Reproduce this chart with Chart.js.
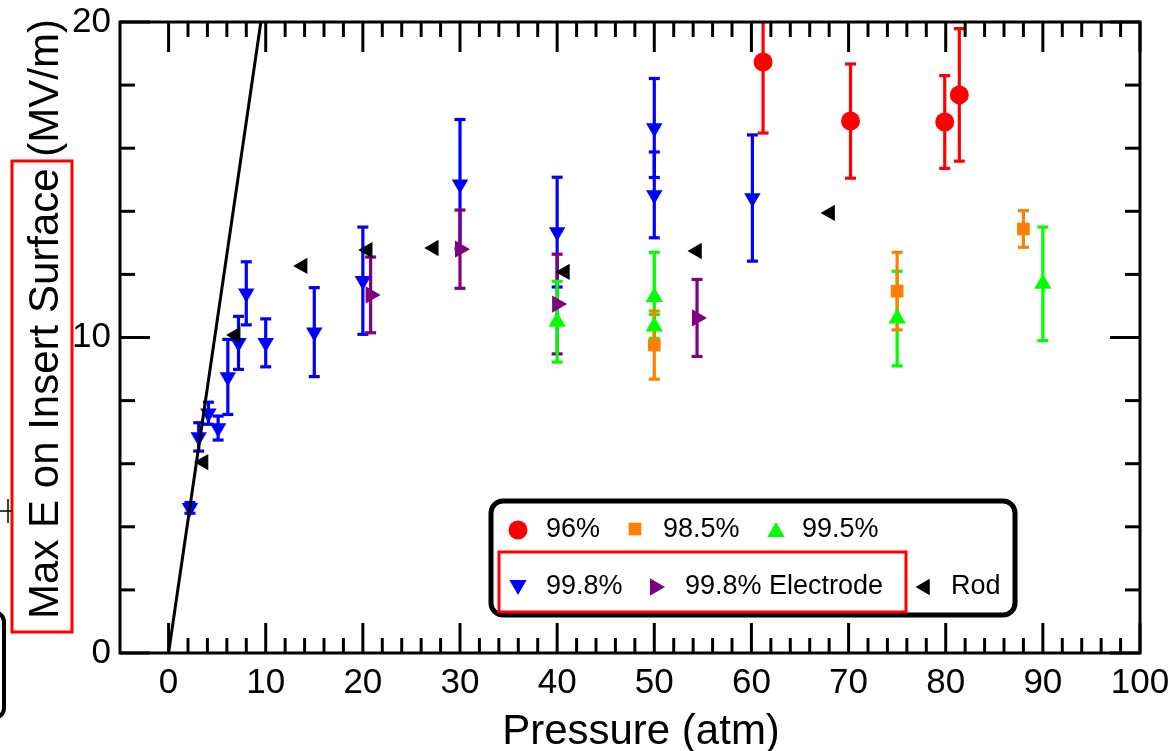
<!DOCTYPE html>
<html><head><meta charset="utf-8">
<script src="https://cdn.jsdelivr.net/npm/chart.js@4"></script>
<style>html,body{margin:0;padding:0;background:#fff}canvas{display:block}</style>
</head><body>
<canvas id="c" width="1175" height="751"></canvas>
<script>
const FONT = '"Liberation Sans", Arial, Helvetica, sans-serif';

// tick labels
const xTickValues = [0, 10, 20, 30, 40, 50, 60, 70, 80, 90, 100];
const yTickValues = [0, 10, 20];

// 96%
const p96 = [61.2, 70.2, 79.9, 81.4];
const v96 = [18.73, 16.86, 16.83, 17.69];
const e96 = [2.25, 1.81, 1.47, 2.1];

// 98.5%
const p985 = [50.0, 75.0, 88.0];
const v985 = [9.76, 11.47, 13.44];
const e985 = [1.08, 1.23, 0.58];

// 99.5%
const p995 = [40.0, 50.0, 50.0, 75.0, 90.0];
const v995 = [10.5, 11.28, 10.35, 10.6, 11.7];
const e995 = [1.28, 1.42, 0.38, 1.5, 1.8];

// 99.8%
const p998 = [2.2, 3.1, 4.1, 5.1, 6.1, 7.2, 8.0, 10.0, 15.0, 20.0, 30.0, 40.0, 50.0, 50.0, 60.1];
const v998 = [4.6, 6.85, 7.6, 7.13, 8.75, 9.83, 11.4, 9.83, 10.17, 11.8, 14.86, 13.34, 16.64, 14.52, 14.42];
const e998 = [0.17, 0.45, 0.35, 0.38, 1.19, 0.84, 1.0, 0.76, 1.41, 1.7, 2.05, 1.74, 1.57, 1.36, 2.0];

// 99.8% Electrode
const pElec = [20.8, 30.0, 40.0, 54.4];
const vElec = [11.35, 12.8, 11.06, 10.62];
const eElec = [1.2, 1.24, 1.58, 1.22];

// Rod
const pRod = [3.6, 6.9, 13.8, 20.5, 27.3, 40.8, 54.4, 68.1];
const vRod = [6.05, 10.08, 12.27, 12.77, 12.84, 12.08, 12.74, 13.95];

// straight line
const lineX = [0, 9.5];
const lineY = [0, 20];

const C = {red:'#ff0000', orange:'#ff8000', green:'#00ff00', blue:'#0000ff', purple:'#800080', black:'#000000'};

function mk(label, xs, ys, errs, color, style, rot, r) {
  return {
    label, data: xs.map((x, i) => ({x, y: ys[i]})), errors: errs,
    showLine: false, borderColor: color, backgroundColor: color,
    pointStyle: style, pointRotation: rot, pointRadius: r, pointHoverRadius: r,
    pointBackgroundColor: color, pointBorderColor: color, pointBorderWidth: 0
  };
}

const datasets = [
  { label: 'line', data: lineX.map((x, i) => ({x, y: lineY[i]})), showLine: true,
    borderColor: '#000', borderWidth: 3, pointRadius: 0, fill: false },
  mk('Rod', pRod, vRod, null, C.black, 'triangle', 270, 9.5),
  mk('96%', p96, v96, e96, C.red, 'circle', 0, 9.5),
  mk('98.5%', p985, v985, e985, C.orange, 'rect', 0, 9),
  mk('99.5%', p995, v995, e995, C.green, 'triangle', 0, 10),
  mk('99.8% Electrode', pElec, vElec, eElec, C.purple, 'triangle', 90, 10),
  mk('99.8%', p998, v998, e998, C.blue, 'triangle', 180, 9.5)
];

function line(ctx, x1, y1, x2, y2) { ctx.beginPath(); ctx.moveTo(x1, y1); ctx.lineTo(x2, y2); ctx.stroke(); }

function marker(ctx, style, x, y, r, rot, color) {
  ctx.save(); ctx.fillStyle = color; ctx.beginPath();
  if (style === 'circle') { ctx.arc(x, y, r, 0, Math.PI * 2); }
  else if (style === 'rect') { const s = Math.SQRT1_2 * r; ctx.rect(x - s, y - s, 2 * s, 2 * s); }
  else {
    let a = rot * Math.PI / 180;
    for (let k = 0; k < 3; k++) {
      const px = x + Math.sin(a) * r, py = y - Math.cos(a) * r;
      if (k === 0) ctx.moveTo(px, py); else ctx.lineTo(px, py);
      a += 2 * Math.PI / 3;
    }
    ctx.closePath();
  }
  ctx.fill(); ctx.restore();
}

const errPlugin = {
  id: 'errbars',
  beforeDatasetsDraw(chart) {
    const {ctx, chartArea: a, scales: {x, y}} = chart;
    ctx.save();
    ctx.beginPath(); ctx.rect(a.left, a.top, a.right - a.left, a.bottom - a.top); ctx.clip();
    ctx.lineWidth = 3.2; ctx.lineCap = 'butt';
    const order = ['99.8%', '99.8% Electrode', '99.5%', '98.5%', '96%'];
    order.forEach(lbl => {
      const ds = chart.data.datasets.find(d => d.label === lbl);
      if (!ds || !ds.errors) return;
      ctx.strokeStyle = ds.borderColor;
      ds.data.forEach((p, i) => {
        const e = ds.errors[i];
        const px = x.getPixelForValue(p.x);
        const y1 = y.getPixelForValue(p.y + e), y2 = y.getPixelForValue(p.y - e);
        line(ctx, px, y1, px, y2);
        line(ctx, px - 5.5, y1, px + 5.5, y1);
        line(ctx, px - 5.5, y2, px + 5.5, y2);
      });
    });
    ctx.restore();
  }
};

const decor = {
  id: 'decor',
  afterDraw(chart) {
    const {ctx, chartArea: a, scales: {x, y}} = chart;
    ctx.save();
    // frame + inward ticks
    ctx.strokeStyle = '#000'; ctx.lineWidth = 3; ctx.lineCap = 'butt';
    ctx.strokeRect(a.left, a.top, a.right - a.left, a.bottom - a.top);
    for (let v = 0; v <= 100; v += 2) {
      const px = x.getPixelForValue(v), L = v % 10 === 0 ? 30 : 15;
      line(ctx, px, a.bottom, px, a.bottom - L);
      line(ctx, px, a.top, px, a.top + L);
    }
    for (let v = 0; v <= 20; v += 2) {
      const py = y.getPixelForValue(v), L = v % 10 === 0 ? 30 : 15;
      line(ctx, a.left, py, a.left + L, py);
      line(ctx, a.right, py, a.right - L, py);
    }
    // axis titles
    ctx.fillStyle = '#000';
    ctx.font = '42px ' + FONT;
    ctx.textAlign = 'center'; ctx.textBaseline = 'alphabetic';
    ctx.fillText('Pressure (atm)', 641, 744);
    ctx.save();
    ctx.translate(58, 319); ctx.rotate(-Math.PI / 2);
    ctx.fillText('Max E on Insert Surface (MV/m)', 0, 0);
    ctx.restore();

    // legend
    ctx.lineWidth = 5; ctx.strokeStyle = '#000';
    ctx.beginPath(); ctx.roundRect(491, 501, 524, 114, 12); ctx.stroke();
    ctx.font = '27px ' + FONT; ctx.textAlign = 'left'; ctx.textBaseline = 'middle';
    const r1 = 530, r2 = 587;
    marker(ctx, 'circle', 518, r1, 9.5, 0, C.red); ctx.fillStyle = '#000'; ctx.fillText('96%', 546, r1);
    marker(ctx, 'rect', 635, r1 - 1, 9, 0, C.orange); ctx.fillStyle = '#000'; ctx.fillText('98.5%', 663, r1);
    marker(ctx, 'triangle', 776, r1 + 2, 10, 0, C.green); ctx.fillStyle = '#000'; ctx.fillText('99.5%', 802, r1);
    marker(ctx, 'triangle', 518, r2 - 2, 10, 180, C.blue); ctx.fillStyle = '#000'; ctx.fillText('99.8%', 546, r2);
    marker(ctx, 'triangle', 655, r2, 10, 90, C.purple); ctx.fillStyle = '#000'; ctx.fillText('99.8% Electrode', 685, r2);
    marker(ctx, 'triangle', 925, r2, 9.5, 270, C.black); ctx.fillStyle = '#000'; ctx.fillText('Rod', 951, r2);

    // red annotation boxes
    ctx.strokeStyle = '#ff0000'; ctx.lineWidth = 3;
    ctx.strokeRect(499, 552, 407, 60);
    ctx.strokeRect(12, 161, 60, 471);

    // cropped artifacts at left edge
    ctx.strokeStyle = '#000'; ctx.lineWidth = 1.5;
    line(ctx, 0, 511, 12, 511);
    line(ctx, 8, 499, 8, 523);
    ctx.lineWidth = 4;
    ctx.beginPath(); ctx.roundRect(-60, 612, 64, 106, 10); ctx.stroke();
    ctx.restore();
  }
};

new Chart(document.getElementById('c'), {
  type: 'scatter',
  data: { datasets },
  options: {
    responsive: false, animation: false, devicePixelRatio: 1, events: [],
    layout: { padding: { left: 0, right: 35, top: 22, bottom: 0 } },
    plugins: { legend: { display: false }, tooltip: { enabled: false } },
    scales: {
      x: {
        type: 'linear', min: -5, max: 100,
        afterBuildTicks: s => { s.ticks = xTickValues.map(v => ({value: v})); },
        afterFit: s => { s.height = 98; s.paddingLeft = 0; s.paddingRight = 0; },
        grid: { display: false, drawTicks: false }, border: { display: false },
        ticks: { font: { size: 35, family: FONT }, color: '#000', padding: 9, autoSkip: false, maxRotation: 0 }
      },
      y: {
        type: 'linear', min: 0, max: 20,
        afterBuildTicks: s => { s.ticks = yTickValues.map(v => ({value: v})); },
        afterFit: s => { s.width = 120; s.paddingTop = 0; s.paddingBottom = 0; },
        grid: { display: false, drawTicks: false }, border: { display: false },
        ticks: { font: { size: 35, family: FONT }, color: '#000', padding: 9 }
      }
    }
  },
  plugins: [errPlugin, decor]
});
</script>
</body></html>
